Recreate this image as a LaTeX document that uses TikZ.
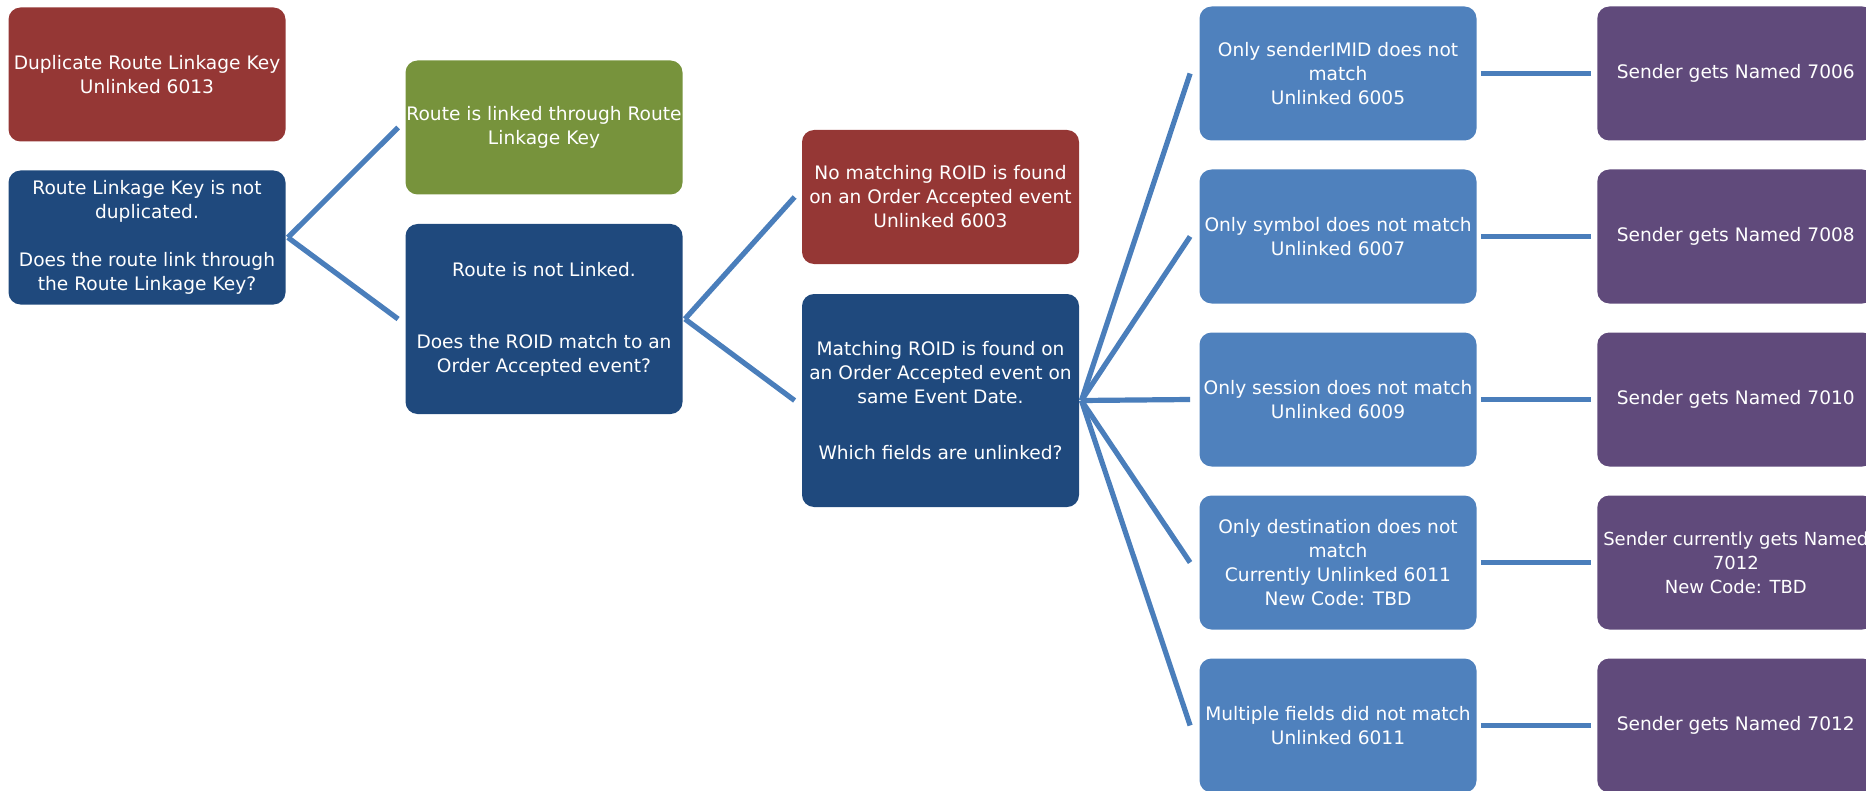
\documentclass[tikz,border=0pt]{standalone}
\usepackage{fontspec}
\setmainfont{DejaVu Sans}
\usetikzlibrary{positioning}
\definecolor{myred}{RGB}{149,55,53}
\definecolor{mygreen}{RGB}{119,147,60}
\definecolor{mynavy}{RGB}{31,73,125}
\definecolor{myblue}{RGB}{79,129,189}
\definecolor{mypurple}{RGB}{96,74,123}
\definecolor{mysteel}{RGB}{74,126,187}

\begin{document}
\begin{tikzpicture}[
  x=0.5pt,
  y=-0.5pt,
  mybox/.style={
    fill=#1,
    text=white,
    rounded corners=6pt,
    minimum width=138.5pt,
    minimum height=67pt,
    inner sep=0pt,
    align=center,
    font=\fontsize{9.3}{12}\selectfont
    },
  branch/.style={
    draw=mysteel,
    line width=2.6pt
    }
]
\clip (0,0) rectangle (1866,791);
\node[mybox=myred] (dup) at (147,74.5)
  {Duplicate Route Linkage Key\\Unlinked 6013};
\node[mybox=mynavy] (root) at (147,237.5)
  {Route Linkage Key is not\\duplicated.\\[12pt]Does the route link through\\the Route Linkage Key?};
\node[mybox=mygreen] (linked) at (544,127.5)
  {Route is linked through Route\\Linkage Key};
\node[mybox=mynavy,minimum height=95pt] (notlinked) at (544,319)
  {Route is not Linked.\\[24pt]Does the ROID match to an\\Order Accepted event?};
\node[mybox=myred] (noroid) at (940.5,197)
  {No matching ROID is found\\on an Order Accepted event\\Unlinked 6003};
\node[mybox=mynavy,minimum height=106.5pt] (roid) at (940.5,400.5)
  {Matching ROID is found on\\an Order Accepted event on\\same Event Date.\\[16pt]Which fields are unlinked?};
\node[mybox=myblue] (field1) at (1338,73.5)
  {Only senderIMID does not\\match\\Unlinked 6005};
\node[mybox=myblue] (field2) at (1338,236.5)
  {Only symbol does not match\\Unlinked 6007};
\node[mybox=myblue] (field3) at (1338,399.5)
  {Only session does not match\\Unlinked 6009};
\node[mybox=myblue] (field4) at (1338,562.5)
  {Only destination does not\\match\\Currently Unlinked 6011\\New Code: TBD};
\node[mybox=myblue] (field5) at (1338,725.5)
  {Multiple fields did not match\\Unlinked 6011};
\node[mybox=mypurple,right=60pt of field1] (named1)
  {Sender gets Named 7006};
\node[mybox=mypurple,right=60pt of field2] (named2)
  {Sender gets Named 7008};
\node[mybox=mypurple,right=60pt of field3] (named3)
  {Sender gets Named 7010};
\node[mybox=mypurple,right=60pt of field4,font=\fontsize{9}{12}\selectfont] (named4)
  {Sender currently gets Named\\7012\\New Code: TBD};
\node[mybox=mypurple,right=60pt of field5] (named5)
  {Sender gets Named 7012};
\draw[branch] ([xshift=1pt]root.east) -- ([xshift=-3.5pt]linked.west);
\draw[branch] ([xshift=1pt]root.east) -- ([xshift=-3.5pt]notlinked.west);
\draw[branch] ([xshift=1pt]notlinked.east) -- ([xshift=-3.5pt]noroid.west);
\draw[branch] ([xshift=1pt]notlinked.east) -- ([xshift=-3.5pt]roid.west);
\foreach \i in {1,...,5}{
  \draw[branch] ([xshift=1pt]roid.east) -- ([xshift=-4.5pt]field\i.west);
  \draw[branch] ([xshift=2pt]field\i.east) -- ([xshift=-3pt]named\i.west);
}
\end{tikzpicture}
\end{document}
